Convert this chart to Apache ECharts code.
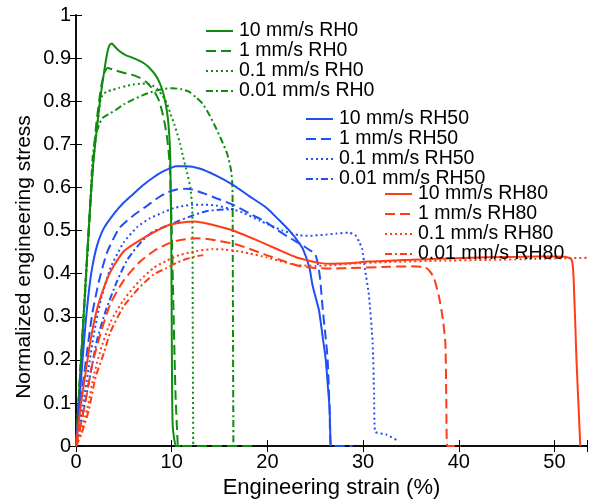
<!DOCTYPE html>
<html>
<head>
<meta charset="utf-8">
<script src="https://cdn.jsdelivr.net/npm/echarts@6/dist/echarts.min.js"></script>
<style>
html,body{margin:0;padding:0;background:#fff;}
#chart{width:596px;height:504px;}
</style>
</head>
<body>
<div id="chart"></div>
<script>
// ---- Data (strain %, normalized stress) ----
const xTicks = [0, 10, 20, 30, 40, 50];
const xTitle = 'Engineering strain (%)';
const yTitle = 'Normalized engineering stress';
const seriesNames = [
  '10 mm/s RH0', '1 mm/s RH0', '0.1 mm/s RH0', '0.01 mm/s RH0',
  '10 mm/s RH50', '1 mm/s RH50', '0.1 mm/s RH50', '0.01 mm/s RH50',
  '10 mm/s RH80', '1 mm/s RH80', '0.1 mm/s RH80', '0.01 mm/s RH80'
];

const rh0_10 = [[0,0],[0.7,0.265],[1.35,0.51],[1.74,0.64],[2.1,0.72],[2.5,0.8],[2.95,0.87],[3.25,0.91],[3.5,0.93],[3.75,0.934],[4.0,0.928],[4.34,0.92],[4.8,0.912],[5.2,0.907],[6.0,0.9],[6.6,0.894],[7.1,0.888],[7.6,0.879],[8.2,0.864],[8.7,0.845],[9.1,0.82],[9.4,0.79],[9.6,0.76],[9.75,0.72],[9.85,0.67],[9.95,0.5],[10.0,0.3],[10.1,0.05],[10.45,0],[10.9,0]];
const rh0_1 = [[0,0],[0.7,0.265],[1.35,0.51],[1.7,0.63],[2.08,0.739],[2.6,0.83],[2.95,0.865],[3.3,0.877],[3.9,0.873],[4.5,0.869],[5.3,0.864],[6.07,0.86],[6.7,0.854],[7.3,0.845],[7.8,0.834],[8.3,0.818],[8.7,0.8],[9.0,0.776],[9.3,0.745],[9.55,0.71],[9.8,0.65],[10.0,0.5],[10.2,0.3],[10.4,0.12],[10.6,0.02],[10.7,0],[18.8,0]];
const rh0_01 = [[0,0],[0.7,0.265],[1.35,0.51],[1.8,0.66],[2.26,0.75],[2.55,0.8],[2.78,0.815],[3.2,0.822],[3.8,0.826],[4.5,0.831],[5.2,0.835],[6.0,0.839],[6.95,0.841],[7.5,0.84],[7.98,0.837],[8.5,0.828],[9.0,0.814],[9.5,0.795],[9.9,0.769],[10.3,0.745],[10.6,0.723],[10.9,0.7],[11.2,0.67],[11.6,0.635],[11.95,0.6],[12.15,0.55],[12.2,0.3],[12.25,0]];
const rh0_001 = [[0,0],[0.7,0.265],[1.35,0.5],[1.74,0.67],[2.1,0.725],[2.5,0.75],[2.78,0.761],[3.4,0.77],[4.17,0.78],[5.0,0.793],[5.9,0.803],[7.0,0.814],[7.98,0.822],[9.0,0.828],[10.07,0.83],[11.0,0.828],[11.8,0.822],[12.5,0.81],[13.2,0.795],[13.9,0.77],[14.6,0.739],[15.2,0.71],[15.8,0.678],[16.2,0.64],[16.35,0.6],[16.4,0.3],[16.45,0]];

const rh50_10 = [[0,0],[0.33,0.095],[0.66,0.193],[1.0,0.284],[1.35,0.36],[1.7,0.415],[2.2,0.465],[2.9,0.505],[4.0,0.54],[5.0,0.565],[6.0,0.585],[7.0,0.605],[8.0,0.622],[9.0,0.636],[10.0,0.646],[10.5,0.649],[11.5,0.649],[12.9,0.644],[14.6,0.628],[16.4,0.606],[18.1,0.58],[19.9,0.553],[21.1,0.527],[22.3,0.5],[23.1,0.478],[23.7,0.458],[24.4,0.413],[24.7,0.375],[25.1,0.34],[25.4,0.314],[25.8,0.25],[26.1,0.2],[26.35,0.13],[26.5,0.087],[26.6,0]];
const rh50_1 = [[0,0],[0.3,0.065],[0.66,0.133],[1.18,0.223],[1.7,0.307],[2.4,0.383],[3.26,0.45],[4.5,0.505],[5.3,0.522],[6.3,0.54],[7.4,0.557],[8.5,0.575],[9.5,0.588],[10.5,0.595],[11.5,0.597],[12.2,0.595],[13.5,0.585],[14.65,0.575],[16.4,0.56],[18.1,0.54],[19.9,0.519],[21.1,0.5],[22.5,0.481],[23.5,0.468],[24.4,0.455],[25.0,0.445],[25.3,0.42],[25.5,0.39],[25.8,0.314],[26.1,0.25],[26.3,0.2],[26.5,0.087],[26.7,0],[28.9,0]];
const rh50_01 = [[0,0],[0.4,0.055],[0.83,0.11],[1.35,0.186],[1.88,0.261],[2.57,0.337],[3.6,0.413],[5.0,0.473],[6.4,0.508],[7.7,0.528],[9.1,0.542],[10.2,0.552],[11.2,0.557],[12.2,0.56],[13.5,0.56],[14.65,0.558],[16.4,0.549],[17.4,0.542],[19.2,0.523],[21.6,0.5],[23.3,0.489],[24.5,0.488],[25.8,0.49],[27.2,0.493],[28.5,0.495],[29.2,0.489],[29.6,0.473],[29.9,0.458],[30.2,0.41],[30.6,0.352],[31.0,0.239],[31.15,0.12],[31.25,0.034],[32.4,0.027],[33.75,0.011]];
const rh50_001 = [[0,0],[0.4,0.04],[0.83,0.087],[1.53,0.17],[2.2,0.246],[3.1,0.314],[4.3,0.383],[5.3,0.43],[6.0,0.452],[7.0,0.478],[8.1,0.498],[9.4,0.51],[10.8,0.523],[12.2,0.535],[13.6,0.545],[15.0,0.548],[16.5,0.55]];

const rh80_10 = [[0,0],[0.5,0.095],[1.0,0.17],[1.5,0.243],[2.2,0.318],[3.3,0.39],[4.0,0.42],[5.0,0.452],[6.0,0.468],[7.0,0.482],[8.2,0.497],[9.45,0.511],[10.5,0.517],[11.5,0.52],[12.2,0.521],[13.3,0.518],[14.65,0.511],[16.4,0.5],[18.1,0.485],[19.9,0.468],[21.6,0.451],[23.0,0.438],[24.0,0.432],[25.4,0.425],[26.8,0.423],[28.5,0.424],[30.5,0.428],[32.7,0.43],[36,0.433],[39.7,0.436],[43,0.438],[46.6,0.439],[50,0.44],[51.1,0.439],[51.8,0.432],[52.0,0.39],[52.3,0.2],[52.5,0.1],[52.7,0]];
const rh80_1 = [[0,0],[0.5,0.05],[1.0,0.105],[1.7,0.19],[2.57,0.262],[3.6,0.33],[5.0,0.385],[6.7,0.428],[8.1,0.452],[9.45,0.468],[10.5,0.476],[11.5,0.48],[12.6,0.482],[13.5,0.481],[14.65,0.477],[16.4,0.47],[18.1,0.458],[19.9,0.443],[21.6,0.43],[23.3,0.418],[25.1,0.413],[26.8,0.412],[28.5,0.413],[32.7,0.416],[35,0.417],[36.5,0.415],[37.0,0.405],[37.4,0.39],[37.9,0.35],[38.3,0.3],[38.6,0.239],[38.7,0.1],[38.8,0],[40.2,0]];
const rh80_01 = [[0,0],[0.5,0.035],[1.18,0.087],[1.88,0.165],[2.57,0.223],[3.6,0.288],[5.0,0.34],[6.7,0.385],[8.1,0.413],[9.45,0.43],[10.8,0.443],[12.5,0.452],[14.3,0.457],[15.5,0.456],[17,0.452],[18.1,0.447],[19.9,0.438],[21.5,0.428],[23,0.42],[25.1,0.418],[27,0.42],[28.5,0.423],[32.7,0.427],[38,0.43],[43.1,0.432],[48,0.434],[51.8,0.436],[54,0.437]];
const rh80_001 = [[0,0],[0.6,0.03],[1.35,0.085],[2.05,0.16],[2.9,0.215],[3.6,0.265],[5.0,0.325],[6.5,0.365],[8.1,0.398],[9.45,0.413],[10.5,0.425],[11.5,0.434],[12.5,0.44],[13.3,0.443]];

const seriesData = [rh0_10, rh0_1, rh0_01, rh0_001, rh50_10, rh50_1, rh50_01, rh50_001, rh80_10, rh80_1, rh80_01, rh80_001];

// ---- Styles ----
const GREEN = '#0f8c0f', BLUE = '#1f4ff5', RED = '#ff3c16';
const groupColors = [GREEN, BLUE, RED];
const dashTypes = ['solid', [10, 5], [2, 3], [7, 3, 2, 3]];
const FONT = 'Liberation Sans';

const series = seriesNames.map((name, i) => ({
  name: name,
  type: 'line',
  data: seriesData[i],
  showSymbol: false,
  symbol: 'none',
  smooth: 0.2,
  clip: true,
  lineStyle: { color: groupColors[Math.floor(i / 4)], width: 2, type: dashTypes[i % 4] },
  itemStyle: { color: groupColors[Math.floor(i / 4)] },
  emphasis: { disabled: true },
  z: 3
}));

function legendCfg(names, left, top, lh) {
  return {
    data: names, left: left, top: top, orient: 'vertical',
    itemWidth: 27, itemHeight: 14, itemGap: 0, padding: 0,
    selectedMode: false,
    itemStyle: { opacity: 0 },
    textStyle: { fontSize: 19.5, lineHeight: lh, color: '#000', fontFamily: FONT, padding: [0, 0, 0, 1] }
  };
}

const chart = echarts.init(document.getElementById('chart'), null, { renderer: 'canvas' });
const axisLineStyle = { color: '#000', width: 1.5 };
chart.setOption({
  animation: false,
  backgroundColor: '#fff',
  grid: { left: 76, right: 9, top: 15, bottom: 49, containLabel: false },
  legend: [
    legendCfg(seriesNames.slice(0, 4), 205, 21, 20),
    legendCfg(seriesNames.slice(4, 8), 305, 109, 18),
    legendCfg(seriesNames.slice(8, 12), 384, 184, 18)
  ],
  graphic: [{
    type: 'text', x: 24, y: 257, rotation: Math.PI / 2, silent: true,
    style: { text: yTitle, fontSize: 21, fontFamily: FONT, fill: '#000', align: 'center', verticalAlign: 'middle' }
  }],
  xAxis: [
    {
      type: 'value', min: 0, max: 53.4, interval: 10, position: 'bottom',
      name: xTitle, nameLocation: 'middle', nameGap: 15.5,
      nameTextStyle: { fontSize: 22, color: '#000', fontFamily: FONT },
      axisLine: { show: true, lineStyle: axisLineStyle },
      axisTick: { show: true, inside: true, length: 6, lineStyle: { color: '#000', width: 1 } },
      axisLabel: {
        fontSize: 20, color: '#000', fontFamily: FONT, margin: 6,
        formatter: v => (xTicks.some(t => Math.abs(t - v) < 1e-6) ? String(Math.round(v)) : '')
      },
      splitLine: { show: false }
    },
    {
      type: 'value', min: 0, max: 53.4, interval: 10, position: 'top',
      axisLine: { show: true, lineStyle: axisLineStyle },
      axisTick: { show: true, inside: true, length: 6, lineStyle: { color: '#000', width: 1 } },
      axisLabel: { show: false }, splitLine: { show: false }
    }
  ],
  yAxis: [
    {
      type: 'value', min: 0, max: 1, interval: 0.1, position: 'left',
      axisLine: { show: true, lineStyle: axisLineStyle },
      axisTick: { show: true, inside: true, length: 6, lineStyle: { color: '#000', width: 1 } },
      axisLabel: { fontSize: 20, color: '#000', fontFamily: FONT, margin: 5 },
      splitLine: { show: false }
    },
    {
      type: 'value', min: 0, max: 1, interval: 0.1, position: 'right',
      axisLine: { show: true, lineStyle: axisLineStyle },
      axisTick: { show: true, inside: true, length: 6, lineStyle: { color: '#000', width: 1 } },
      axisLabel: { show: false }, splitLine: { show: false }
    }
  ],
  series: series
});
</script>
</body>
</html>
